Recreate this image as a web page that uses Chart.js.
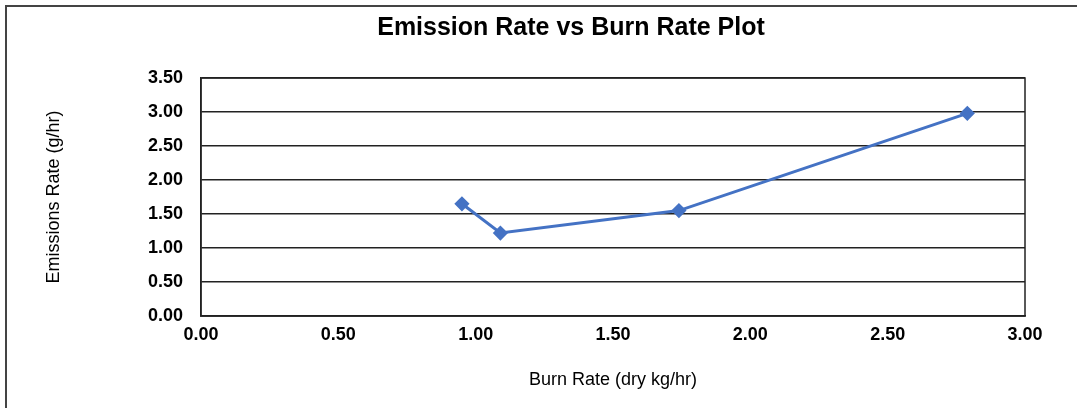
<!DOCTYPE html>
<html>
<head>
<meta charset="utf-8">
<script src="https://cdn.jsdelivr.net/npm/chart.js@4/dist/chart.umd.min.js"></script>
<style>
  html, body { margin: 0; padding: 0; background: #fff; overflow: hidden; }
  #wrap { position: relative; width: 1077px; height: 408px; }
  #frame { position: absolute; left: 5px; top: 5px; width: 1200px; height: 600px;
           border-left: 2px solid #444; border-top: 2px solid #444; box-sizing: border-box; }
  canvas { position: absolute; left: 0; top: 0; }
</style>
</head>
<body>
<div id="wrap">
  <div id="frame"></div>
  <canvas id="c" width="1077" height="408"></canvas>
</div>
<script>
const chartTitle = "Emission Rate vs Burn Rate Plot";
const xTitle = "Burn Rate (dry kg/hr)";
const yTitle = "Emissions Rate (g/hr)";
const burnRate = [0.95, 1.09, 1.74, 2.79];
const emissionRate = [1.65, 1.22, 1.55, 2.98];
const xTicks = [0, 0.5, 1.0, 1.5, 2.0, 2.5, 3.0];
const yTicks = [0, 0.5, 1.0, 1.5, 2.0, 2.5, 3.0, 3.5];

const points = burnRate.map((x, i) => ({ x: x, y: emissionRate[i] }));

const framePlugin = {
  id: 'frame',
  afterDatasetsDraw(chart) {
    const a = chart.chartArea, ctx = chart.ctx;
    ctx.save();
    ctx.strokeStyle = '#222';
    ctx.lineWidth = 1.5;
    ctx.strokeRect(a.left, a.top, a.right - a.left, a.bottom - a.top);
    ctx.restore();
  }
};

new Chart(document.getElementById('c'), {
  type: 'scatter',
  data: {
    datasets: [{
      data: points,
      showLine: true,
      borderColor: '#4472C4',
      backgroundColor: '#4472C4',
      borderWidth: 3,
      pointStyle: 'rectRot',
      pointRadius: 5.5,
      pointHoverRadius: 5.5,
      tension: 0
    }]
  },
  options: {
    responsive: false,
    animation: false,
    devicePixelRatio: 1,
    layout: { padding: { left: 117, right: 52, top: 0, bottom: 0 } },
    plugins: {
      legend: { display: false },
      tooltip: { enabled: false },
      title: {
        display: true,
        text: chartTitle,
        color: '#000',
        font: { family: 'Liberation Sans, Arial, sans-serif', size: 25, weight: 'bold', lineHeight: 1.2 },
        padding: { top: 13, bottom: 35 }
      }
    },
    scales: {
      x: {
        type: 'linear',
        min: 0, max: 3,
        afterBuildTicks(scale) { scale.ticks = xTicks.map(v => ({ value: v })); },
        afterFit(scale) { scale.height = 92; },
        grid: { display: false, drawTicks: false },
        border: { display: true, color: '#222', width: 1.5 },
        ticks: {
          color: '#000',
          padding: 8,
          maxRotation: 0,
          font: { family: 'Liberation Sans, Arial, sans-serif', size: 18, weight: 'bold' },
          callback: v => Number(v).toFixed(2)
        },
        title: {
          display: true,
          text: xTitle,
          color: '#000',
          font: { family: 'Liberation Sans, Arial, sans-serif', size: 18, lineHeight: 1.2 },
          padding: { top: 0, bottom: 17 }
        }
      },
      y: {
        type: 'linear',
        min: 0, max: 3.5,
        afterBuildTicks(scale) { scale.ticks = yTicks.map(v => ({ value: v })); },
        afterFit(scale) { scale.width = 84; },
        grid: { display: true, drawTicks: false, color: '#222', lineWidth: 1.5 },
        border: { display: true, color: '#222', width: 1.5 },
        ticks: {
          color: '#000',
          padding: 18,
          font: { family: 'Liberation Sans, Arial, sans-serif', size: 18, weight: 'bold' },
          callback: v => Number(v).toFixed(2)
        },
        title: {
          display: true,
          text: yTitle,
          color: '#000',
          font: { family: 'Liberation Sans, Arial, sans-serif', size: 18, lineHeight: 1.2 },
          padding: { top: -74, bottom: 0 }
        }
      }
    }
  },
  plugins: [framePlugin]
});
</script>
</body>
</html>
